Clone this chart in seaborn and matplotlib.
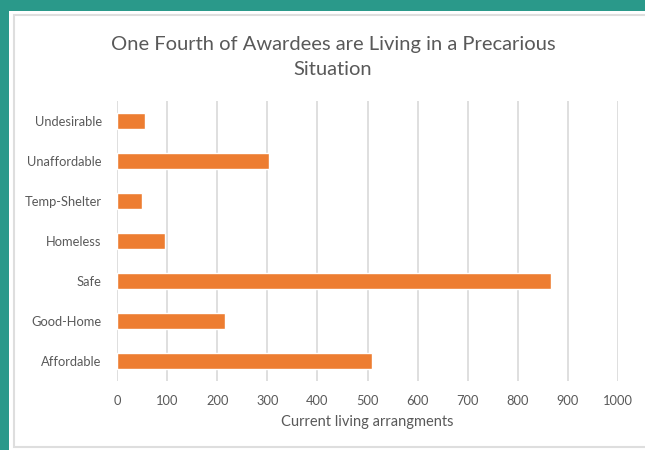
import pandas as pd
import seaborn as sns
from matplotlib import pyplot as plt
from matplotlib.patches import Rectangle

categorias = ["Undesirable", "Unaffordable", "Temp-Shelter", "Homeless", "Safe", "Good-Home", "Affordable"]
cantidades = [55, 304, 50, 95, 866, 215, 509]
ticks_x = [0, 100, 200, 300, 400, 500, 600, 700, 800, 900, 1000]

TEAL = "#2a998a"
NARANJA = "#ed7d31"
GRIS_TEXTO = "#595959"
GRIS_REJILLA = "#d9d9d9"

df = pd.DataFrame({"Categoria": categorias, "Cantidad": cantidades})

sns.set_style("white")
plt.rcParams["font.family"] = ["Lato", "DejaVu Sans"]

fig = plt.figure(figsize=(6.45, 4.5), dpi=100, facecolor=TEAL)

# panel blanco con borde gris, como una diapositiva (detrás de los ejes)
fig.patches.append(Rectangle((9 / 645, 0), 1, 1 - 11 / 450, transform=fig.transFigure,
                             facecolor="white", edgecolor="none", zorder=-2))
fig.patches.append(Rectangle((14 / 645, 3 / 450), 1, 1 - 18 / 450, transform=fig.transFigure,
                             facecolor="white", edgecolor="#dedede", linewidth=1.5, zorder=-1))

ax = fig.add_axes([117 / 645, 1 - 381 / 450, 501 / 645, 280 / 450])
ax.set_facecolor("none")
sns.barplot(data=df, x="Cantidad", y="Categoria", orient="h", color=NARANJA,
            width=0.42, saturation=1, ax=ax, zorder=3)

ax.set_xlim(0, 1000)
ax.set_xticks(ticks_x)
ax.set_xticklabels([str(t) for t in ticks_x])
ax.set_axisbelow(True)
ax.grid(axis="x", color=GRIS_REJILLA, linewidth=1.2)
ax.grid(axis="y", visible=False)
sns.despine(ax=ax, left=True, bottom=True)
ax.tick_params(axis="both", length=0, colors=GRIS_TEXTO, labelsize=9.3)
ax.tick_params(axis="y", pad=11)
ax.tick_params(axis="x", pad=10)
ax.set_ylabel("")
ax.set_xlabel("Current living arrangments", color=GRIS_TEXTO, fontsize=10.5, labelpad=6)

fig.text(333 / 645, 1 - 57 / 450, "One Fourth of Awardees are Living in a Precarious\nSituation",
         ha="center", va="center", fontsize=14.5, color=GRIS_TEXTO, linespacing=1.6)

fig.savefig("out.png", dpi=100, facecolor=TEAL)
